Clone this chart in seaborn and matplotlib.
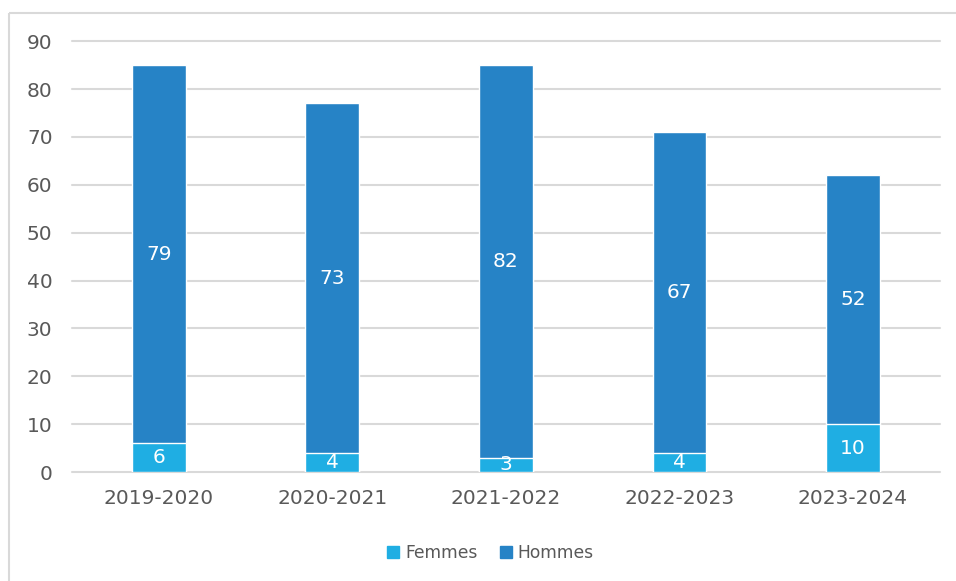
import pandas as pd
import seaborn as sns
import matplotlib.pyplot as plt
from matplotlib.lines import Line2D
from matplotlib.patches import Patch

# DATA ---------------------------------------------------------------------------------
annees = ['2019-2020', '2020-2021', '2021-2022', '2022-2023', '2023-2024']
femmes = [6, 4, 3, 4, 10]
hommes = [79, 73, 82, 67, 52]

c_femmes = '#1FAEE3'
c_hommes = '#2683C6'
gris = '#595959'

df = pd.DataFrame({'annee': annees, 'Femmes': femmes, 'Hommes': hommes})
df['total'] = df['Femmes'] + df['Hommes']

# PLOT ---------------------------------------------------------------------------------
sns.set_style('white')
plt.rcParams['font.family'] = ['DejaVu Sans']

fig = plt.figure(figsize=(9.56, 5.81), dpi=100)
ax = fig.add_axes([0.0753, 0.1876, 0.9077, 0.7414])

# stacked bars: total in Hommes colour, Femmes drawn over the bottom part
sns.barplot(data=df, x='annee', y='total', color=c_hommes, width=0.31,
            saturation=1, ax=ax, zorder=3)
sns.barplot(data=df, x='annee', y='Femmes', color=c_femmes, width=0.31,
            saturation=1, ax=ax, zorder=4)

# value labels centred in each segment
for i, (f, h) in enumerate(zip(femmes, hommes)):
    ax.text(i, f / 2, str(f), ha='center', va='center', color='white', fontsize=14.5, zorder=5)
    ax.text(i, f + h / 2, str(h), ha='center', va='center', color='white', fontsize=14.5, zorder=5)

ax.set_ylim(0, 90)
ax.set_xlim(-0.5, 4.5)
ax.set_yticks(range(0, 91, 10))
ax.yaxis.grid(True, color='#D9D9D9', linewidth=1.5, zorder=0)
for gl in ax.get_ygridlines():
    gl.set_clip_on(False)  # keep the 0 and 90 lines full width
ax.set_axisbelow(True)
ax.tick_params(axis='both', length=0, labelsize=14.5, labelcolor=gris)
ax.tick_params(axis='x', pad=12)
ax.tick_params(axis='y', pad=14)
ax.set_xlabel('')
ax.set_ylabel('')
for s in ax.spines.values():
    s.set_visible(False)

# legend at the bottom
handles = [Patch(color=c_femmes, label='Femmes'), Patch(color=c_hommes, label='Hommes')]
fig.legend(handles=handles, loc='center', bbox_to_anchor=(0.513, 0.049), ncol=2,
           frameon=False, fontsize=12.3, labelcolor=gris, handlelength=0.7,
           handleheight=0.7, handletextpad=0.35, columnspacing=1.3)

# chart frame (only top and left edges are visible)
fig.add_artist(Line2D([8.5 / 956, 1.0], [1 - 12.5 / 581] * 2, color='#D9D9D9', lw=1.5,
                      solid_capstyle='butt', transform=fig.transFigure))
fig.add_artist(Line2D([8.5 / 956] * 2, [0.0, 1 - 12.5 / 581], color='#D9D9D9', lw=1.5,
                      solid_capstyle='butt', transform=fig.transFigure))

fig.savefig('out.png', dpi=100)
